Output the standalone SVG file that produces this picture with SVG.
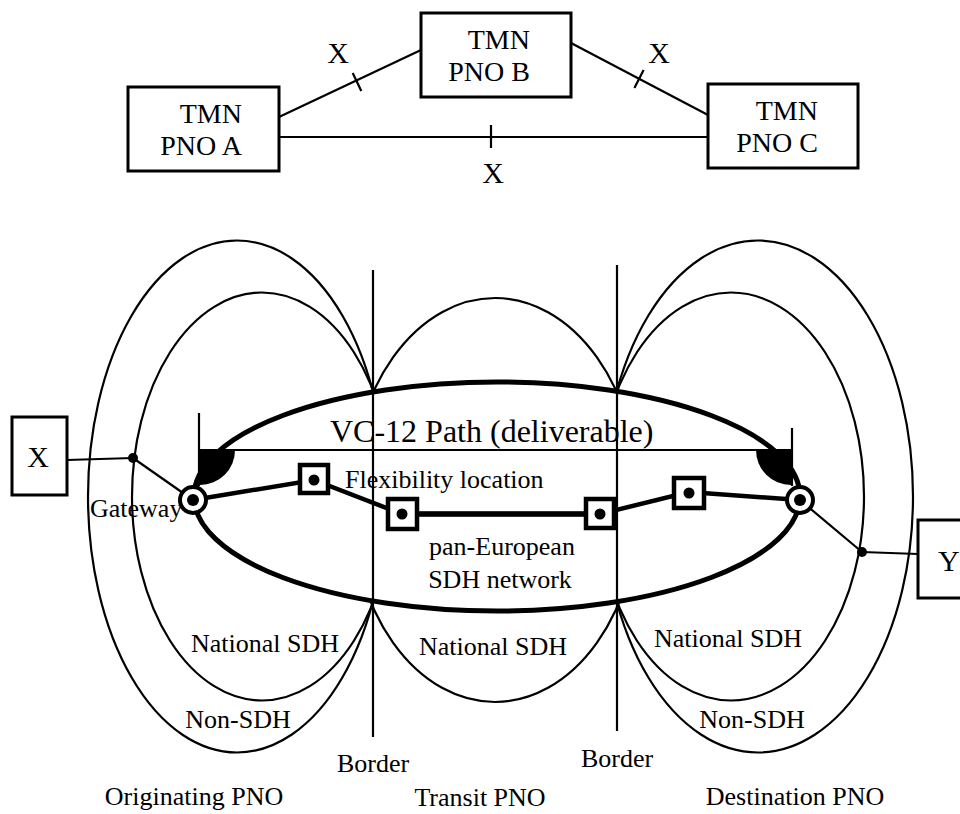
<svg xmlns="http://www.w3.org/2000/svg" width="960" height="814" viewBox="0 0 960 814">
<style>
.box{fill:#fff;stroke:#000;stroke-width:3}
.ln{fill:none;stroke:#000;stroke-width:2.2}
.lobe{fill:none;stroke:#000;stroke-width:2.2}
.thick{fill:none;stroke:#000;stroke-width:4.5}
.fx{fill:#fff;stroke:#000;stroke-width:4.5}
text{font-family:"Liberation Serif","Times New Roman",serif;fill:#000}
.t30{font-size:30px}
.t28{font-size:28px}
.t26{font-size:26px}
.t32{font-size:32px}
.c{text-anchor:middle}
.e{text-anchor:end}
</style>
<rect width="960" height="814" fill="#fff"/>

<!-- top TMN diagram -->
<g id="connectors-top">
  <line class="ln" x1="279" y1="117" x2="421" y2="50"/>
  <line class="ln" x1="352.7" y1="73" x2="361.3" y2="91"/>
  <line class="ln" x1="571" y1="43" x2="708" y2="115"/>
  <line class="ln" x1="643.6" y1="70" x2="634.4" y2="88"/>
  <line class="ln" x1="279" y1="137" x2="708" y2="137"/>
  <line class="ln" x1="491" y1="125" x2="491" y2="148"/>
  <text class="t30 c" x="338" y="63">X</text>
  <text class="t30 c" x="659" y="63">X</text>
  <text class="t30 c" x="493" y="183">X</text>
</g>
<g id="tmn-a">
  <rect class="box" x="128" y="87" width="151" height="84"/>
  <text class="t28 e" x="242" y="123">TMN</text>
  <text class="t28 e" x="242" y="155">PNO A</text>
</g>
<g id="tmn-b">
  <rect class="box" x="421" y="13" width="150" height="84"/>
  <text class="t28 e" x="530" y="49">TMN</text>
  <text class="t28 e" x="530" y="81">PNO B</text>
</g>
<g id="tmn-c">
  <rect class="box" x="708" y="84" width="150" height="84"/>
  <text class="t28 e" x="818" y="120">TMN</text>
  <text class="t28 e" x="818" y="152">PNO C</text>
</g>

<!-- domains -->
<g id="domains">
  <ellipse class="lobe" cx="237" cy="496.5" rx="149" ry="256"/>
  <ellipse class="lobe" cx="262" cy="496.5" rx="130" ry="204"/>
  <ellipse class="lobe" cx="495" cy="500" rx="144" ry="202"/>
  <ellipse class="lobe" cx="731" cy="496.5" rx="133" ry="204"/>
  <ellipse class="lobe" cx="758" cy="496.5" rx="155" ry="256"/>
</g>
<g id="pan-european">
  <ellipse cx="497" cy="496.5" rx="303" ry="114.5" fill="#fff" stroke="#000" stroke-width="5"/>
</g>
<g id="borders">
  <line class="ln" x1="373" y1="270" x2="373" y2="737"/>
  <line class="ln" x1="617" y1="265" x2="617" y2="731"/>
</g>

<!-- VC-12 path marker -->
<g id="vc12-path">
  <line class="ln" x1="199" y1="413" x2="199" y2="486"/>
  <line class="ln" x1="792" y1="428" x2="792" y2="486"/>
  <line class="ln" x1="199" y1="450" x2="792" y2="450"/>
  <path d="M200,450 L235,450 A35,35 0 0 1 200,485 Z" fill="#000"/>
  <path d="M791,450 L756,450 A35,35 0 0 0 791,485 Z" fill="#000"/>
  <text class="t32" x="330" y="442">VC-12 Path (deliverable)</text>
</g>

<g id="connectors">
  <line class="ln" x1="67" y1="460" x2="133" y2="458"/>
  <line class="ln" x1="133" y1="458" x2="193" y2="500"/>
  <line class="ln" x1="800" y1="500" x2="862" y2="552"/>
  <line class="ln" x1="862" y1="552" x2="918" y2="554"/>
  <polyline class="thick" points="193,500 314,480 402,514 600,514 689,492 800,500"/>
  <line x1="402" y1="514" x2="600" y2="514" stroke="#000" stroke-width="5.5"/>
</g>

<g id="flex-1"><rect class="fx" x="300" y="465" width="28" height="28"/><circle cx="314" cy="480" r="5.5"/></g>
<g id="flex-2"><rect class="fx" x="388" y="499" width="29" height="30"/><circle cx="402" cy="514" r="5.5"/></g>
<g id="flex-3"><rect class="fx" x="586" y="499" width="28" height="29"/><circle cx="600" cy="514" r="5.5"/></g>
<g id="flex-4"><rect class="fx" x="674" y="478" width="30" height="30"/><circle cx="689" cy="493" r="5.5"/></g>

<g id="gateway-left">
  <circle cx="193" cy="500" r="13" fill="#fff" stroke="#000" stroke-width="4"/>
  <circle cx="193" cy="500" r="6"/>
</g>
<g id="gateway-right">
  <circle cx="800" cy="500" r="13" fill="#fff" stroke="#000" stroke-width="4"/>
  <circle cx="800" cy="500" r="6"/>
</g>
<g id="dot-x"><circle cx="133" cy="458" r="5"/></g>
<g id="dot-y"><circle cx="862" cy="552" r="5"/></g>

<g id="box-x">
  <rect class="box" x="12" y="417" width="55" height="78" stroke-width="2.5"/>
  <text class="t30 c" x="38" y="467">X</text>
</g>
<g id="box-y">
  <rect class="box" x="918" y="520" width="60" height="78" stroke-width="2.5"/>
  <text class="t30" x="938" y="571">Y</text>
</g>

<g id="labels">
  <text class="t26" x="90" y="517">Gateway</text>
  <text class="t26" x="345" y="488">Flexibility location</text>
  <text class="t26 c" x="502" y="555">pan-European</text>
  <text class="t26 c" x="500" y="588">SDH network</text>
  <text class="t26 c" x="265" y="652">National SDH</text>
  <text class="t26 c" x="493" y="655">National SDH</text>
  <text class="t26 c" x="728" y="647">National SDH</text>
  <text class="t26 c" x="238" y="728">Non-SDH</text>
  <text class="t26 c" x="752" y="728">Non-SDH</text>
  <text class="t26 c" x="373" y="772">Border</text>
  <text class="t26 c" x="617" y="767">Border</text>
  <text class="t26 c" x="194" y="805">Originating PNO</text>
  <text class="t26 c" x="480" y="806">Transit PNO</text>
  <text class="t26 c" x="795" y="805">Destination PNO</text>
</g>
</svg>
